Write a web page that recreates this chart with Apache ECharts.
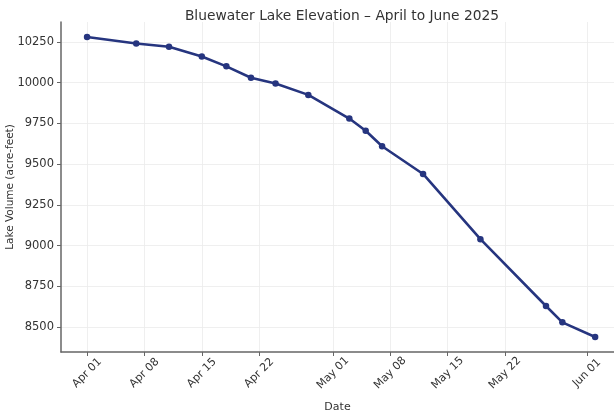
<!DOCTYPE html>
<html>
<head>
<meta charset="utf-8">
<script src="https://cdn.jsdelivr.net/npm/echarts@6/dist/echarts.min.js"></script>
<style>
	html, body { margin: 0; padding: 0; background: #fff; }
	#main { width: 614px; height: 420px; }
</style>
</head>
<body>
<div id="main"></div>
<script>
// readings (date, volume in acre-feet)
var dates = ['2025-04-01', '2025-04-07', '2025-04-11', '2025-04-15', '2025-04-18', '2025-04-21',
	'2025-04-24', '2025-04-28', '2025-05-03', '2025-05-05', '2025-05-07', '2025-05-12',
	'2025-05-19', '2025-05-27', '2025-05-29', '2025-06-02'];
var volumes = [10280, 10240, 10220, 10160, 10100, 10030,
	9995, 9925, 9780, 9705, 9610, 9440,
	9040, 8630, 8530, 8440];

var xTickDates = ['2025-04-01', '2025-04-08', '2025-04-15', '2025-04-22',
	'2025-05-01', '2025-05-08', '2025-05-15', '2025-05-22', '2025-06-01'];
var yTicks = [8500, 8750, 9000, 9250, 9500, 9750, 10000, 10250];

var months = ['Jan', 'Feb', 'Mar', 'Apr', 'May', 'Jun', 'Jul', 'Aug', 'Sep', 'Oct', 'Nov', 'Dec'];
var DAY = 24 * 3600 * 1000;

function toTime(s) {
	var p = s.split('-');
	return Date.UTC(+p[0], +p[1] - 1, +p[2]);
}

var seriesData = [];
dates.forEach(function(d, i) {
	seriesData.push([toTime(d), volumes[i]]);
});
var xTicks = xTickDates.map(toTime);

var myChart = echarts.init(document.getElementById('main'), null, {renderer: 'canvas'});
var font = 'DejaVu Sans';

option = {
	animation: false,
	backgroundColor: '#fff',
	title: {
		text: 'Bluewater Lake Elevation \u2013 April to June 2025',
		left: 337,
		top: 4,
		textAlign: 'center',
		textStyle: {
			fontFamily: font,
			fontSize: 13.8,
			fontWeight: 'normal',
			color: '#333'
		}
	},
	grid: {
		left: 61,
		right: 0,
		top: 22,
		bottom: 68,
		containLabel: false,
		outerBoundsMode: 'none'
	},
	xAxis: {
		type: 'value',
		min: toTime('2025-04-01') - 3.18 * DAY,
		max: toTime('2025-04-01') + 64.3 * DAY,
		name: 'Date',
		nameLocation: 'middle',
		nameGap: 50,
		nameMoveOverlap: false,
		nameTextStyle: {fontFamily: font, fontSize: 11, color: '#333'},
		axisLine: {lineStyle: {color: '#666', width: 1.5}},
		axisTick: {
			show: true,
			length: 4,
			inside: false,
			customValues: xTicks,
			lineStyle: {color: '#666'}
		},
		axisLabel: {
			customValues: xTicks,
			rotate: 45,
			align: 'center',
			verticalAlign: 'middle',
			margin: 21,
			fontFamily: font,
			fontSize: 11,
			color: '#333',
			formatter: function(v) {
				var d = new Date(v);
				var day = d.getUTCDate();
				return months[d.getUTCMonth()] + ' ' + (day < 10 ? '0' + day : day);
			}
		},
		splitLine: {show: true, lineStyle: {color: '#ebebeb', width: 0.8}}
	},
	yAxis: {
		type: 'value',
		min: 8348,
		max: 10372,
		name: 'Lake Volume (acre-feet)',
		nameLocation: 'middle',
		nameGap: 45,
		nameMoveOverlap: false,
		nameTextStyle: {fontFamily: font, fontSize: 10.5, color: '#333'},
		axisLine: {show: true, lineStyle: {color: '#666', width: 1.5}},
		axisTick: {
			show: true,
			length: 4,
			customValues: yTicks,
			lineStyle: {color: '#666'}
		},
		axisLabel: {
			customValues: yTicks,
			margin: 7,
			fontFamily: font,
			fontSize: 11.5,
			color: '#333',
			formatter: function(v) {
				return String(v);
			}
		},
		splitLine: {show: true, lineStyle: {color: '#ebebeb', width: 0.8}}
	},
	series: [{
		type: 'line',
		data: seriesData,
		symbol: 'circle',
		symbolSize: 6.5,
		itemStyle: {color: '#26357f'},
		lineStyle: {color: '#26357f', width: 2.6}
	}]
};
myChart.setOption(option);
</script>
</body>
</html>
